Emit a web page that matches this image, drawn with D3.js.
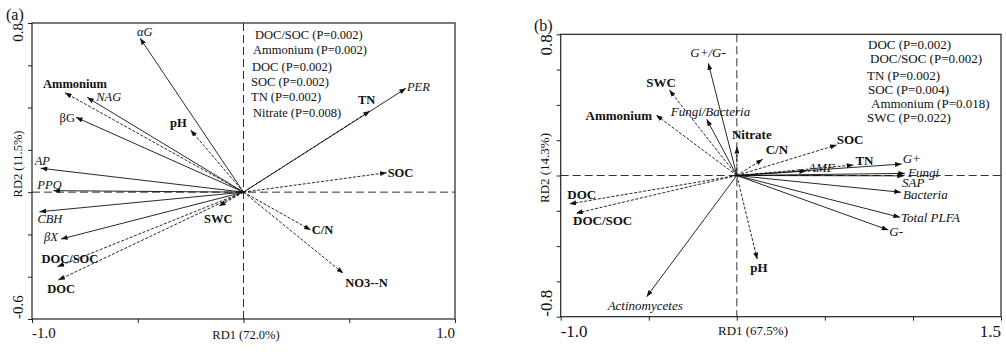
<!DOCTYPE html>
<html>
<head>
<meta charset="utf-8">
<script src="https://cdn.jsdelivr.net/npm/d3@7/dist/d3.min.js"></script>
<style>
  body { margin: 0; background: #fff; }
  svg text { font-family: "Liberation Serif", "Times New Roman", serif; fill: #111; }
</style>
</head>
<body>
<svg id="chart" width="1006" height="352"></svg>
<script>
// ---- panel (a): enzyme activities vs soil variables ----
const enzA = ["αG", "NAG", "βG", "AP", "PPO", "CBH", "βX", "PER"];
const enzAx = [-0.489, -0.739, -0.792, -0.959, -0.899, -0.965, -0.863, 0.768];
const enzAy = [0.728, 0.448, 0.354, 0.113, 0.007, -0.093, -0.222, 0.491];

const envA = ["Ammonium", "pH", "SWC", "DOC/SOC", "DOC", "TN", "SOC", "C/N", "NO3--N"];
const envAx = [-0.844, -0.250, -0.116, -0.880, -0.876, 0.598, 0.677, 0.318, 0.472];
const envAy = [0.470, 0.294, -0.066, -0.353, -0.416, 0.384, 0.092, -0.179, -0.384];

const sigA = ["DOC/SOC (P=0.002)", "Ammonium (P=0.002)", "DOC (P=0.002)",
              "SOC (P=0.002)", "TN (P=0.002)", "Nitrate (P=0.008)"];
const xTicksA = [-1.0, -0.5, 0, 0.5, 1.0];
const yTicksA = [-0.6, -0.4, -0.2, 0, 0.2, 0.4, 0.6, 0.8];

// ---- panel (b): PLFA groups vs soil variables ----
const micB = ["G+/G-", "Fungi/Bacteria", "Actinomycetes", "AMF", "G+", "Fungi",
              "SAP", "Bacteria", "Total PLFA", "G-"];
const micBx = [-0.162, -0.171, -0.512, 0.393, 0.936, 0.955, 0.949, 0.932, 0.927, 0.860];
const micBy = [0.636, 0.318, -0.687, 0.025, 0.065, 0.012, -0.002, -0.095, -0.237, -0.309];

const envB = ["SWC", "Ammonium", "Nitrate", "DOC", "DOC/SOC", "pH", "C/N", "SOC", "TN"];
const envBx = [-0.383, -0.459, 0.001, -0.951, -0.913, 0.116, 0.147, 0.567, 0.662];
const envBy = [0.484, 0.343, 0.163, -0.161, -0.214, -0.475, 0.092, 0.173, 0.059];

const sigB = ["DOC (P=0.002)", "DOC/SOC (P=0.002)", "TN (P=0.002)",
              "SOC (P=0.004)", "Ammonium (P=0.018)", "SWC (P=0.022)"];
const xTicksB = [-1.0, -0.5, 0, 0.5, 1.0, 1.5];
const yTicksB = [-0.8, -0.6, -0.4, -0.2, 0, 0.2, 0.4, 0.6, 0.8];

// label placement relative to arrow tip: [dx, dy, anchor]
const labA = {
  "αG": [-3, -2, "start"], "NAG": [9, 4, "start"], "βG": [-1, 5, "end"],
  "AP": [-6, -3, "start"], "PPO": [-16, -2, "start"], "CBH": [-2, 11, "start"],
  "βX": [-3, 2, "end"], "PER": [1, 3, "start"],
  "Ammonium": [-22, -5, "start"], "pH": [-4, -3, "end"], "SWC": [-15, 17, "start"],
  "DOC/SOC": [-16, -4, "start"], "DOC": [-11, 13, "start"], "TN": [-12, -7, "start"],
  "SOC": [1, 4, "start"], "C/N": [1, 4, "start"], "NO3--N": [2, 14, "start"]
};
const labB = {
  "G+/G-": [-18, -6, "start"], "Fungi/Bacteria": [-36, -3, "start"],
  "Actinomycetes": [-39, 13, "start"], "AMF": [2, 1, "start"], "G+": [1, -1, "start"],
  "Fungi": [3, 4, "start"], "SAP": [-2, 11, "start"], "Bacteria": [2, 7, "start"],
  "Total PLFA": [1, 5, "start"], "G-": [1, 6, "start"],
  "SWC": [-23, -3, "start"], "Ammonium": [-4, 5, "end"], "Nitrate": [-5, -8, "start"],
  "DOC": [-2, -5, "start"], "DOC/SOC": [-3, 12, "start"], "pH": [-7, 13, "start"],
  "C/N": [3, -5, "start"], "SOC": [0, -1, "start"], "TN": [2, 0, "start"]
};

const svg = d3.select("#chart");
const defs = svg.append("defs");
defs.append("marker")
  .attr("id", "head")
  .attr("viewBox", "0 0 8 6")
  .attr("refX", 8).attr("refY", 3)
  .attr("markerWidth", 7).attr("markerHeight", 5)
  .attr("markerUnits", "userSpaceOnUse")
  .attr("orient", "auto")
  .append("path").attr("d", "M0,0L8,3L0,6z").attr("fill", "#111");

function drawPanel(p) {
  const x = d3.scaleLinear().domain(p.xDom).range([p.left, p.right]);
  const y = d3.scaleLinear().domain(p.yDom).range([p.bottom, p.top]);
  const g = svg.append("g");

  // zero lines
  g.append("line")
    .attr("x1", x(0)).attr("x2", x(0)).attr("y1", p.top).attr("y2", p.bottom)
    .attr("stroke", "#333").attr("stroke-width", 1).attr("stroke-dasharray", "8,4");
  g.append("line")
    .attr("x1", p.left).attr("x2", p.right).attr("y1", y(0)).attr("y2", y(0))
    .attr("stroke", "#333").attr("stroke-width", 1).attr("stroke-dasharray", "8,4");

  // axes (ticks only, labels drawn by hand below)
  const ax = g.append("g").attr("transform", "translate(0," + p.bottom + ")")
    .call(d3.axisBottom(x).tickValues(p.xTicks).tickSize(4).tickFormat(""));
  const ay = g.append("g").attr("transform", "translate(" + p.left + ",0)")
    .call(d3.axisLeft(y).tickValues(p.yTicks).tickSize(4).tickFormat(""));
  ax.select(".domain").remove();
  ay.select(".domain").remove();
  g.selectAll(".tick line").attr("stroke", "#222");

  g.append("rect")
    .attr("x", p.left).attr("y", p.top)
    .attr("width", p.right - p.left).attr("height", p.bottom - p.top)
    .attr("fill", "none").attr("stroke", "#222").attr("stroke-width", 1.2);

  // end tick labels
  const xs = p.xTicks, ys = p.yTicks;
  g.append("text").attr("x", x(xs[0])).attr("y", p.tickY)
    .attr("font-size", p.tickFs).text(xs[0].toFixed(1));
  g.append("text").attr("x", x(xs[xs.length - 1])).attr("y", p.tickY)
    .attr("text-anchor", "end").attr("font-size", p.tickFs).text(xs[xs.length - 1].toFixed(1));
  g.append("text").attr("transform", "translate(" + p.tickX + "," + y(ys[ys.length - 1]) + ")rotate(-90)")
    .attr("text-anchor", "end").attr("font-size", p.tickFs).text(ys[ys.length - 1].toFixed(1));
  g.append("text").attr("transform", "translate(" + p.tickX + "," + y(ys[0]) + ")rotate(-90)")
    .attr("text-anchor", "start").attr("font-size", p.tickFs).text(ys[0].toFixed(1));

  // axis titles and panel tag
  g.append("text").attr("x", p.xTitlePos[0]).attr("y", p.xTitlePos[1])
    .attr("text-anchor", "middle").attr("font-size", p.titleFs).text(p.xTitle);
  g.append("text").attr("transform", "translate(" + p.yTitlePos[0] + "," + p.yTitlePos[1] + ")rotate(-90)")
    .attr("text-anchor", "middle").attr("font-size", p.titleFs).text(p.yTitle);
  g.append("text").attr("x", p.tagPos[0]).attr("y", p.tagPos[1])
    .attr("font-size", 16).text(p.tag);

  // arrows
  const rows = p.sp.map((n, i) => ({ name: n, x: p.spx[i], y: p.spy[i], env: false }))
    .concat(p.env.map((n, i) => ({ name: n, x: p.envx[i], y: p.envy[i], env: true })));

  g.selectAll("line.arr").data(rows).enter().append("line")
    .attr("class", "arr")
    .attr("x1", x(0)).attr("y1", y(0))
    .attr("x2", d => x(d.x)).attr("y2", d => y(d.y))
    .attr("stroke", "#111").attr("stroke-width", 0.9)
    .attr("stroke-dasharray", d => d.env ? "3,1.6" : null)
    .attr("marker-end", "url(#head)");

  g.selectAll("text.lab").data(rows).enter().append("text")
    .attr("class", "lab")
    .attr("x", d => x(d.x) + p.lab[d.name][0])
    .attr("y", d => y(d.y) + p.lab[d.name][1])
    .attr("text-anchor", d => p.lab[d.name][2])
    .attr("font-size", p.labFs)
    .attr("font-weight", d => d.env ? "bold" : null)
    .attr("font-style", d => (d.env || d.name === "βG") ? null : "italic")
    .attr("fill", d => d.env ? "#000" : "#333")
    .text(d => d.name);

  // significance list
  g.selectAll("text.sig").data(p.sig).enter().append("text")
    .attr("class", "sig")
    .attr("x", (d, i) => p.sigX[i])
    .attr("y", (d, i) => p.sigY[i])
    .attr("font-size", p.sigFs)
    .text(d => d);
}

drawPanel({
  left: 32, right: 455, top: 23, bottom: 319,
  xDom: [-1, 1], yDom: [-0.6, 0.8], xTicks: xTicksA, yTicks: yTicksA,
  tickFs: 15, tickY: 338, tickX: 23,
  titleFs: 12.5, xTitle: "RD1 (72.0%)", yTitle: "RD2 (11.5%)",
  xTitlePos: [246, 339], yTitlePos: [22, 164],
  tag: "(a)", tagPos: [6, 20],
  sp: enzA, spx: enzAx, spy: enzAy, env: envA, envx: envAx, envy: envAy,
  lab: labA, labFs: 12.5,
  sig: sigA, sigFs: 12.5,
  sigX: [255, 253, 252, 251, 251, 253], sigY: [39, 54, 71, 86, 101, 117]
});

drawPanel({
  left: 560.7, right: 1001, top: 34.3, bottom: 316.7,
  xDom: [-1, 1.5], yDom: [-0.8, 0.8], xTicks: xTicksB, yTicks: yTicksB,
  tickFs: 17, tickY: 337, tickX: 552,
  titleFs: 13, xTitle: "RD1 (67.5%)", yTitle: "RD2 (14.3%)",
  xTitlePos: [753, 335], yTitlePos: [549, 168],
  tag: "(b)", tagPos: [534, 31],
  sp: micB, spx: micBx, spy: micBy, env: envB, envx: envBx, envy: envBy,
  lab: labB, labFs: 13,
  sig: sigB, sigFs: 13,
  sigX: [868, 870, 867, 868, 871, 867], sigY: [49, 63, 80, 94, 108, 122]
});
</script>
</body>
</html>
